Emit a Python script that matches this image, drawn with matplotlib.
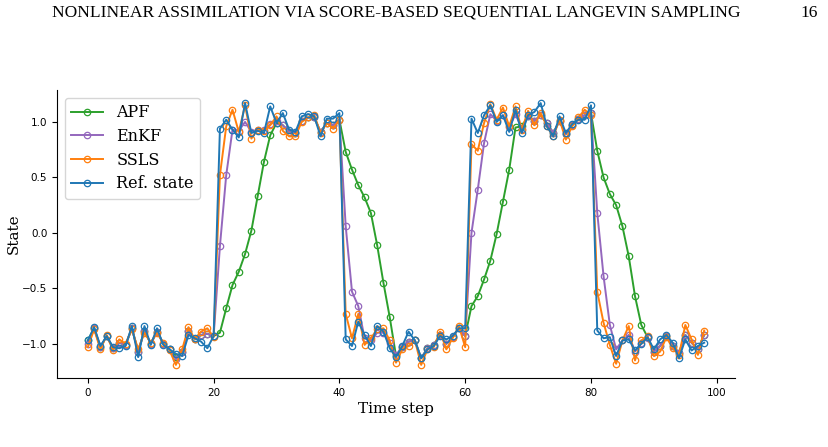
import matplotlib
matplotlib.use("Agg")
import matplotlib.pyplot as plt
import numpy as np

# time steps 0..98
steps = list(range(99))

ref_state = [
    -0.97, -0.85, -1.02, -0.93, -1.03, -1.04, -1.02, -0.84, -1.12, -0.84,
    -1.01, -0.86, -1.01, -1.05, -1.09, -1.11, -0.92, -0.95, -0.98, -1.04,
    -0.93, 0.94, 1.02, 0.93, 0.86, 1.17, 0.90, 0.92, 0.90, 1.14,
    0.99, 1.08, 0.93, 0.91, 1.05, 1.07, 1.05, 0.87, 1.03, 1.03,
    1.08, -0.96, -1.02, -0.80, -0.92, -1.02, -0.84, -0.89, -1.04, -1.12,
    -1.02, -0.89, -0.97, -1.13, -1.05, -1.02, -0.93, -0.96, -0.93, -0.86,
    -0.86, 1.03, 0.90, 1.06, 1.15, 1.00, 1.06, 0.91, 1.11, 0.90,
    1.06, 1.09, 1.17, 0.96, 0.87, 1.05, 0.90, 0.98, 1.02, 1.02,
    1.15, -0.88, -0.95, -0.94, -1.11, -0.97, -0.96, -1.06, -1.00, -0.94,
    -1.05, -0.96, -0.92, -0.99, -1.13, -0.96, -1.06, -1.02, -0.99,
]

ssls = [
    -1.03, -0.87, -1.05, -0.92, -1.06, -0.96, -1.00, -0.87, -1.05, -0.90,
    -0.99, -0.90, -0.99, -1.06, -1.19, -1.05, -0.85, -0.96, -0.89, -0.86,
    -0.94, 0.52, 0.96, 1.11, 0.91, 1.15, 0.85, 0.93, 0.92, 0.97,
    1.05, 0.92, 0.87, 0.87, 1.00, 1.04, 1.06, 0.90, 0.99, 0.94,
    1.02, -0.73, -0.95, -0.73, -1.01, -0.95, -0.87, -0.86, -0.97, -1.17,
    -1.05, -1.02, -0.97, -1.19, -1.05, -1.03, -0.89, -1.05, -0.95, -0.84,
    -1.03, 0.80, 0.74, 0.99, 1.16, 1.02, 1.13, 0.96, 1.14, 0.93,
    1.10, 0.97, 1.08, 0.96, 0.87, 1.02, 0.84, 0.96, 1.04, 1.11,
    1.06, -0.53, -0.81, -1.01, -1.18, -0.97, -0.84, -1.15, -0.97, -0.93,
    -1.11, -1.07, -0.94, -1.04, -1.10, -0.83, -0.96, -1.10, -0.88,
]

enkf = [
    -1.00, -0.86, -1.03, -0.93, -1.04, -0.99, -1.01, -0.86, -1.07, -0.88,
    -1.00, -0.89, -1.00, -1.05, -1.14, -1.07, -0.88, -0.96, -0.92, -0.91,
    -0.93, -0.12, 0.52, 0.93, 0.92, 1.00, 0.91, 0.93, 0.93, 0.98,
    1.01, 0.97, 0.91, 0.90, 1.01, 1.04, 1.04, 0.91, 0.99, 0.97,
    1.02, 0.06, -0.53, -0.66, -0.95, -0.97, -0.90, -0.90, -0.99, -1.10,
    -1.03, -0.98, -0.97, -1.13, -1.04, -1.01, -0.92, -1.00, -0.94, -0.86,
    -0.93, 0.00, 0.39, 0.81, 1.07, 1.01, 1.06, 0.95, 1.07, 0.94,
    1.05, 1.01, 1.06, 0.99, 0.90, 1.01, 0.89, 0.97, 1.03, 1.06,
    1.08, 0.18, -0.39, -0.83, -1.05, -0.97, -0.92, -1.07, -0.99, -0.95,
    -1.07, -1.02, -0.93, -1.02, -1.08, -0.92, -0.99, -1.05, -0.92,
]

apf = [
    -0.97, -0.86, -1.03, -0.93, -1.04, -0.99, -1.01, -0.86, -1.07, -0.88,
    -1.00, -0.89, -1.00, -1.05, -1.12, -1.07, -0.88, -0.96, -0.92, -0.91,
    -0.93, -0.90, -0.68, -0.47, -0.35, -0.19, 0.02, 0.33, 0.64, 0.88,
    0.99, 0.97, 0.91, 0.90, 1.01, 1.04, 1.04, 0.91, 0.99, 0.97,
    1.02, 0.73, 0.57, 0.43, 0.32, 0.18, -0.11, -0.45, -0.76, -1.11,
    -1.03, -0.98, -0.97, -1.13, -1.04, -1.01, -0.92, -1.00, -0.94, -0.86,
    -0.93, -0.66, -0.57, -0.42, -0.25, -0.01, 0.28, 0.57, 0.95, 0.96,
    1.05, 1.01, 1.06, 0.99, 0.90, 1.01, 0.89, 0.97, 1.03, 1.06,
    1.08, 0.74, 0.50, 0.35, 0.25, 0.06, -0.21, -0.57, -0.83, -0.94,
    -1.07, -1.02, -0.93, -1.02, -1.08, -0.92, -0.99, -1.05, -0.92,
]

series = [("APF", apf, "tab:green"), ("EnKF", enkf, "tab:purple"),
          ("SSLS", ssls, "tab:orange"), ("Ref. state", ref_state, "tab:blue")]

fig = plt.figure(figsize=(8.29, 4.47), dpi=100)
ax = fig.add_axes([0.0688, 0.1544, 0.8178, 0.6443])

for name, vals, col in series:
    ax.plot(steps, vals, color=col, lw=1.4, marker="o", ms=4.6,
            mfc="none", mew=0.9, label=name)

ax.set_xticks([0, 20, 40, 60, 80, 100])
ax.set_yticks([-1.0, -0.5, 0.0, 0.5, 1.0])
ax.tick_params(labelsize=7.5)
ax.spines["top"].set_visible(False)
ax.spines["right"].set_visible(False)
ax.set_xlabel("Time step", family="DejaVu Serif", fontsize=11, labelpad=3)
ax.set_ylabel("State", family="DejaVu Serif", fontsize=11, labelpad=1)

ax.legend(loc="upper left", prop={"family": "DejaVu Serif", "size": 11.5},
          numpoints=1, handlelength=2.0, labelspacing=0.42,
          borderaxespad=0.5)

# page header
fig.text(0.063, 0.972, "NONLINEAR ASSIMILATION VIA SCORE-BASED SEQUENTIAL LANGEVIN SAMPLING",
         family="Liberation Serif", fontsize=12.6, va="center", ha="left")
fig.text(0.987, 0.972, "16", family="Liberation Serif", fontsize=12.6,
         va="center", ha="right")

fig.savefig("out.png", dpi=100)
